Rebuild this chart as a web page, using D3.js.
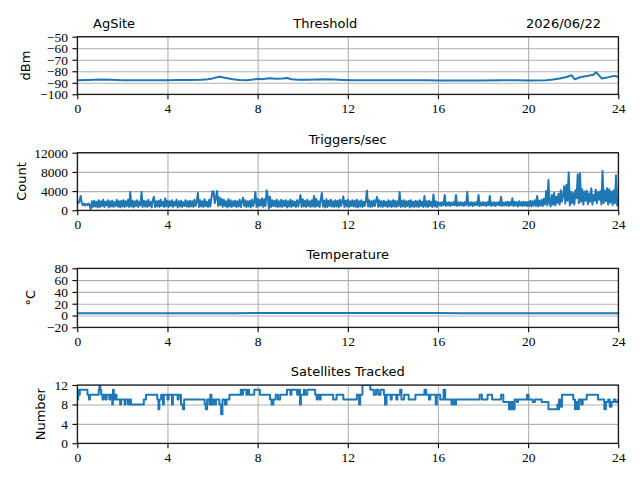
<!DOCTYPE html>
<meta charset="utf-8">
<script src="https://d3js.org/d3.v7.min.js"></script>
<style>
  body { margin: 0; background: #fff; }
</style>
<body>
<div id="my_dataviz"></div>
<script>

// ---- data ----
var hourTicks = [0, 4, 8, 12, 16, 20, 24];

var thrTicks = [-100, -90, -80, -70, -60, -50];
var thrHours = [0, 0.5, 1, 1.5, 2, 2.5, 3, 3.5, 4, 4.5, 5, 5.5, 5.8, 6.0, 6.3, 6.6, 6.9, 7.2, 7.5, 7.8,
  8.0, 8.2, 8.5, 8.8, 9.1, 9.3, 9.5, 9.8, 10.2, 10.6, 11.0, 11.4, 11.8, 12.2, 13, 14, 14.8, 15.5, 16, 17,
  18, 18.8, 19.5, 20, 20.8, 21.1, 21.4, 21.7, 21.93, 22.07, 22.3, 22.6, 22.9, 23.0, 23.1, 23.26, 23.5, 23.8, 24];
var thrDbm = [-87.8, -87.5, -87.2, -87.3, -87.7, -87.8, -87.8, -87.7, -87.7, -87.6, -87.6, -87.4, -87.0, -86.2, -84.8, -85.8, -87.0, -87.6, -87.8, -87.2,
  -86.5, -86.9, -86.0, -86.5, -86.2, -85.8, -86.9, -87.3, -87.4, -87.2, -86.9, -87.1, -87.5, -87.8, -87.9, -87.8, -87.7, -87.8, -88.0, -88.0,
  -88.0, -87.9, -87.8, -88.0, -87.8, -87.2, -86.2, -85.0, -83.5, -87.0, -85.2, -84.2, -83.0, -81.0, -82.5, -86.2, -85.5, -84.0, -84.8];

// triggers sampled every 3 minutes, one row per hour
var trigTicks = [0, 4000, 8000, 12000];
var trigStep = 0.05;
var trigCounts = [
  1900, 1500, 2000, 3000, 1500, 1100, 1400, 1000, 1300, 1100, 1400, 1000, 300, 1900, 700, 2000, 800, 1800, 600, 2100,
  700, 1900, 900, 2200, 700, 1800, 1000, 2100, 600, 1900, 800, 2000, 700, 1700, 900, 2200, 800, 1900, 600, 2000,
  800, 2100, 700, 1900, 900, 2200, 700, 3800, 800, 2000, 600, 1900, 900, 2100, 700, 1800, 1000, 3800, 700, 2000,
  800, 1900, 700, 2200, 900, 1800, 600, 2100, 2800, 700, 1900, 800, 2000, 700, 2200, 900, 1800, 700, 2500, 800,
  2000, 700, 1900, 900, 2100, 700, 1800, 1000, 2200, 600, 1900, 800, 2000, 700, 1700, 900, 2100, 800, 1900, 700,
  2000, 800, 1900, 700, 2200, 900, 1800, 3600, 700, 2100, 800, 1900, 700, 2300, 900, 1800, 700, 2200, 800, 2600,
  4000, 3800, 1500, 2600, 4000, 900, 2700, 1100, 2400, 700, 2200, 900, 1900, 600, 2300, 800, 2100, 700, 1900, 900,
  2000, 700, 1900, 800, 2200, 700, 1800, 2600, 900, 2100, 700, 1900, 800, 2000, 600, 2200, 900, 1800, 3800, 700,
  2400, 800, 2200, 1000, 2500, 700, 2300, 900, 4200, 3000, 400, 2800, 700, 2100, 900, 2000, 800, 2200, 700, 1900,
  800, 2200, 700, 2000, 900, 2100, 600, 1900, 800, 2200, 700, 2000, 900, 1800, 700, 2100, 800, 1900, 3200, 700,
  2300, 800, 2000, 700, 2200, 900, 1900, 700, 2100, 800, 3000, 700, 2400, 900, 1900, 700, 2200, 3600, 800, 2000,
  600, 2300, 700, 2000, 900, 2200, 800, 1900, 700, 2100, 800, 2000, 600, 2200, 900, 1800, 2900, 700, 2000, 800,
  2200, 700, 1900, 900, 2100, 800, 2000, 700, 2200, 600, 1900, 800, 2100, 700, 1800, 900, 2000, 4100, 800, 2100,
  700, 1900, 800, 2100, 900, 2000, 2800, 700, 2100, 800, 1900, 700, 2000, 900, 1800, 700, 2100, 800, 1900, 700,
  2100, 800, 2000, 700, 1900, 900, 3800, 700, 2000, 800, 2100, 700, 1900, 900, 2000, 600, 2100, 800, 1800, 700,
  2000, 800, 1900, 700, 2100, 900, 1800, 700, 3000, 800, 1900, 700, 2000, 900, 1800, 700, 3300, 800, 1900, 700,
  1700, 1000, 1600, 900, 1700, 1100, 3200, 900, 1600, 1000, 1700, 900, 1600, 1100, 1700, 1000, 3200, 900, 1600, 1000,
  1700, 1000, 1600, 900, 1700, 1100, 3800, 900, 1600, 1000, 1700, 900, 1600, 1100, 1700, 1000, 3200, 900, 1600, 1000,
  1700, 1000, 1600, 900, 1700, 1100, 3000, 900, 1600, 1000, 1700, 900, 1600, 1100, 1700, 1000, 2800, 900, 1600, 1000,
  1700, 1000, 1800, 900, 1700, 1100, 2500, 900, 1800, 1000, 1700, 800, 1900, 1000, 1700, 900, 1800, 1000, 1700, 900,
  1800, 900, 2000, 800, 1900, 1000, 2100, 900, 3000, 800, 2000, 1000, 2200, 900, 2400, 1200, 4000, 1000, 6300, 1500,
  800, 3200, 1200, 3600, 1000, 2800, 1500, 3400, 1200, 4200, 1800, 3000, 5000, 1400, 5300, 2000, 7900, 1000, 3800, 1500,
  3600, 1200, 4200, 2500, 7500, 1500, 7700, 1800, 4400, 1200, 3900, 2000, 4100, 1300, 3500, 1800, 4600, 1200, 3200, 2000,
  4300, 1500, 3800, 2200, 4000, 1200, 8200, 1500, 4100, 1900, 4600, 1200, 4400, 1600, 3900, 1100, 4200, 1500, 7300, 1000,
  1000];

var tempTicks = [-20, 0, 20, 40, 60, 80];
var tempHours = [0, 1, 2, 3, 4, 5, 6, 7, 8, 9, 10, 11, 12, 13, 14, 15, 16, 17, 18, 19, 20, 21, 22, 23, 24];
var tempC = [4.0, 4.0, 3.9, 3.9, 3.8, 3.8, 3.9, 4.0, 4.1, 4.2, 4.2, 4.3, 4.3, 4.3, 4.2, 4.2, 4.1, 4.0, 4.0, 3.9, 3.9, 3.9, 4.0, 4.0, 4.0];

// satellites: change points (hour, count)
var satTicks = [0, 4, 8, 12];
var satHours = [0.00, 0.04, 0.08, 0.11, 0.45, 0.52, 0.56, 0.95, 0.98, 1.02, 1.06, 1.12, 1.16, 1.25, 1.30, 1.42, 1.46, 1.55, 1.58, 1.62,
  1.68, 1.74, 1.90, 1.94, 2.10, 2.14, 2.25, 2.30, 2.38, 2.95, 3.05, 3.55, 3.60, 3.64, 3.72, 3.80, 3.84, 4.00, 4.05, 4.20,
  4.24, 4.45, 4.50, 4.60, 4.68, 4.74, 5.65, 5.70, 5.76, 5.86, 5.90, 5.95, 6.02, 6.10, 6.15, 6.30, 6.38, 6.44, 6.55, 6.62,
  6.75, 7.25, 7.30, 7.35, 7.50, 7.55, 7.62, 7.85, 8.10, 8.55, 8.62, 8.70, 8.80, 8.90, 9.00, 9.30, 9.45, 9.50, 9.75, 9.80,
  9.88, 9.92, 10.05, 10.10, 10.20, 10.55, 10.62, 10.66, 10.75, 10.80, 11.35, 11.50, 11.80, 12.40, 12.50, 12.55, 12.65, 13.00, 13.15, 13.25,
  13.35, 13.45, 13.60, 13.65, 13.72, 13.90, 13.95, 14.15, 14.20, 14.32, 14.38, 14.50, 14.70, 15.00, 15.40, 15.48, 15.60, 15.66, 15.90, 15.95,
  16.10, 16.25, 16.32, 16.60, 16.66, 16.75, 16.80, 17.85, 17.95, 18.20, 18.40, 18.80, 18.90, 19.15, 19.20, 19.25, 19.30, 19.35, 19.40, 19.50,
  19.55, 19.95, 20.02, 20.20, 20.30, 20.60, 20.90, 21.30, 21.33, 21.37, 21.42, 21.50, 22.00, 22.08, 22.12, 22.20, 22.25, 22.35, 22.42, 22.60,
  23.10, 23.38, 23.45, 23.55, 23.62, 23.70, 23.80, 23.88, 24.00];
var satCount = [9, 11, 10, 11, 10, 9, 10, 11, 12, 11, 10, 9, 10, 9, 10, 9, 10, 8, 11, 9,
  10, 9, 8, 9, 8, 9, 8, 9, 8, 9, 10, 9, 7, 9, 10, 8, 10, 9, 10, 8,
  10, 9, 10, 8, 7, 9, 8, 7, 9, 8, 10, 8, 9, 8, 9, 8, 6, 9, 8, 9,
  10, 11, 10, 11, 10, 11, 10, 11, 10, 9, 8, 9, 10, 9, 10, 11, 10, 11, 10, 11,
  8, 10, 11, 10, 11, 10, 9, 10, 9, 10, 9, 10, 9, 10, 8, 10, 12, 11, 10, 11,
  10, 11, 10, 8, 10, 9, 10, 9, 10, 11, 9, 10, 9, 10, 11, 10, 9, 10, 8, 10,
  9, 11, 9, 8, 9, 8, 9, 10, 9, 10, 9, 10, 8.5, 7, 8.5, 7, 8.5, 7, 9, 8.5,
  9, 10, 9, 8.5, 9, 8.5, 7, 8, 7, 9, 7.5, 10, 9, 7, 8.5, 7, 9, 8, 9, 10,
  9, 7, 8.5, 9, 7.5, 8.5, 9, 8.5, 9];

var left = 77.3, right = 618.3;
var serif = "'Liberation Serif', serif", sans = "'DejaVu Sans', sans-serif";
var panels = [
  {top: 36.7, bottom: 94.3, xs: thrHours, ys: thrDbm, domain: [-100, -50], ticks: thrTicks, label: "dBm", labelX: 30, step: false},
  {top: 152.7, bottom: 210.3, xs: trigCounts.map(function(d, i) { return i * trigStep; }), ys: trigCounts, domain: [0, 12000], ticks: trigTicks, label: "Count", labelX: 25.5, title: "Triggers/sec", step: false},
  {top: 268.3, bottom: 327.3, xs: tempHours, ys: tempC, domain: [-20, 80], ticks: tempTicks, label: "\u00B0C", labelX: 35, title: "Temperature", step: false},
  {top: 385, bottom: 443.3, xs: satHours, ys: satCount, domain: [0, 12], ticks: satTicks, label: "Number", labelX: 45, title: "Satellites Tracked", step: true}
];

var svg = d3.select("#my_dataviz")
  .append("svg")
    .attr("width", 640)
    .attr("height", 480)
    .style("display", "block");

svg.append("rect").attr("width", 640).attr("height", 480).attr("fill", "#fff");

var x = d3.scaleLinear().domain([0, 24]).range([left, right]);

function title(t, xp, yp, anchor) {
  svg.append("text")
    .attr("x", xp).attr("y", yp)
    .attr("text-anchor", anchor)
    .style("font-family", sans).style("font-size", "13px")
    .attr("fill", "#000")
    .text(t);
}

panels.forEach(function(p, k) {
  var y = d3.scaleLinear().domain(p.domain).range([p.bottom, p.top]);
  var g = svg.append("g");

  // grid
  g.append("g")
    .attr("transform", "translate(0," + p.bottom + ")")
    .call(d3.axisBottom(x).tickValues(hourTicks).tickSize(-(p.bottom - p.top)).tickFormat(""))
    .call(function(s) { s.select(".domain").remove(); })
    .selectAll("line").attr("stroke", "#b0b0b0").attr("stroke-width", 1.1);
  g.append("g")
    .attr("transform", "translate(" + left + ",0)")
    .call(d3.axisLeft(y).tickValues(p.ticks).tickSize(-(right - left)).tickFormat(""))
    .call(function(s) { s.select(".domain").remove(); })
    .selectAll("line").attr("stroke", "#b0b0b0").attr("stroke-width", 1.1);

  // data line, clipped to the axes box
  svg.append("clipPath").attr("id", "clip" + k)
    .append("rect").attr("x", left).attr("y", p.top).attr("width", right - left).attr("height", p.bottom - p.top);

  var line = d3.line()
    .x(function(d, i) { return x(p.xs[i]); })
    .y(function(d) { return y(d); });
  if (p.step) line.curve(d3.curveStepAfter);

  g.append("path")
    .datum(p.ys)
    .attr("clip-path", "url(#clip" + k + ")")
    .attr("fill", "none")
    .attr("stroke", "#1f77b4")
    .attr("stroke-width", 2)
    .attr("stroke-linejoin", "round")
    .attr("d", line);

  // axes
  var fmt = d3.format("d");
  var ax = g.append("g")
    .attr("transform", "translate(0," + p.bottom + ")")
    .call(d3.axisBottom(x).tickValues(hourTicks).tickSize(4.9).tickPadding(4.2).tickSizeOuter(0).tickFormat(fmt));
  var ay = g.append("g")
    .attr("transform", "translate(" + left + ",0)")
    .call(d3.axisLeft(y).tickValues(p.ticks).tickSize(4.9).tickPadding(4.4).tickSizeOuter(0).tickFormat(fmt));
  [ax, ay].forEach(function(a) {
    a.select(".domain").remove();
    a.selectAll("line").attr("stroke", "#000").attr("stroke-width", 1.1);
    a.selectAll("text")
      .style("font-family", serif)
      .style("font-size", "13.5px")
      .attr("fill", "#000");
  });

  // spines
  g.append("rect")
    .attr("x", left).attr("y", p.top)
    .attr("width", right - left).attr("height", p.bottom - p.top)
    .attr("fill", "none").attr("stroke", "#000").attr("stroke-width", 1.1);

  // y label
  g.append("text")
    .attr("transform", "translate(" + p.labelX + "," + ((p.top + p.bottom) / 2) + ")rotate(-90)")
    .attr("text-anchor", "middle")
    .style("font-family", sans).style("font-size", "13px")
    .attr("fill", "#000")
    .text(p.label);

  if (p.title) title(p.title, (left + right) / 2, p.top - 9, "middle");
});

// first panel carries site, title and date on one line
title("AgSite", 93, 28.3, "start");
title("Threshold", 293.3, 28.3, "start");
title("2026/06/22", 601, 28.3, "end");

</script>
